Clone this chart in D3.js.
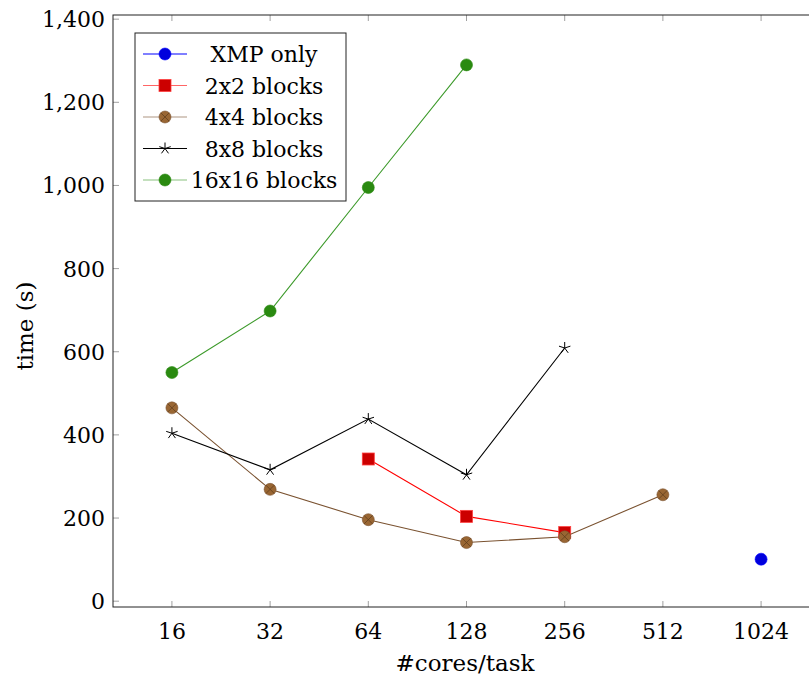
<!DOCTYPE html>
<html>
<head>
<meta charset="utf-8">
<script src="https://cdn.jsdelivr.net/npm/d3@7"></script>
<style>
  body { margin: 0; background: #fff; }
  text { font-family: "DejaVu Serif", "Liberation Serif", serif; }
</style>
</head>
<body>
<svg id="chart" width="809" height="684"></svg>
<script>
// data
const cores = [16, 32, 64, 128, 256, 512, 1024];
const xmpOnly = [[1024, 101]];
const blocks2 = [[64, 342], [128, 204], [256, 165]];
const blocks4 = [[16, 465], [32, 269], [64, 196], [128, 141], [256, 155], [512, 256]];
const blocks8 = [[16, 404], [32, 316], [64, 438], [128, 304], [256, 609]];
const blocks16 = [[16, 550], [32, 698], [64, 995], [128, 1290]];
const yTicks = [0, 200, 400, 600, 800, 1000, 1200, 1400];

const series = [
  { name: "XMP only", data: xmpOnly, line: "#0000ff", fill: "#0000dd", stroke: "#0000ff", mark: "circle" },
  { name: "2x2 blocks", data: blocks2, line: "#ff0000", fill: "#cc0000", stroke: "#ff4040", mark: "square" },
  { name: "4x4 blocks", data: blocks4, line: "#7a5230", fill: "#996633", stroke: "#7a5230", mark: "otimes" },
  { name: "8x8 blocks", data: blocks8, line: "#000000", fill: "none", stroke: "#000000", mark: "star" },
  { name: "16x16 blocks", data: blocks16, line: "#3c9a2a", fill: "#2a8a10", stroke: "#2a8a10", mark: "circle" }
];

const plotLeft = 113, plotRight = 820, plotTop = 15, plotBottom = 607;
const tickFont = 22, labelFont = 23, legendFont = 22;
const svg = d3.select("#chart");

const x = d3.scaleLog().base(2).domain([Math.pow(2, 3.4), Math.pow(2, 10.6)]).range([plotLeft, plotRight]);
const y = d3.scaleLinear().domain([-14, 1410]).range([plotBottom, plotTop]);

// ticks (inside, mirrored)
const tickLen = 6;
const g = svg.append("g");
g.selectAll(".xt").data(cores).enter().append("path")
  .attr("d", d => `M${x(d)},${plotBottom}v${-tickLen}M${x(d)},${plotTop}v${tickLen}`)
  .attr("stroke", "#a0a0a0").attr("stroke-width", 1);
g.selectAll(".yt").data(yTicks).enter().append("path")
  .attr("d", d => `M${plotLeft},${y(d)}h${tickLen}M${plotRight},${y(d)}h${-tickLen}`)
  .attr("stroke", "#a0a0a0").attr("stroke-width", 1);

// axis box
svg.append("rect")
  .attr("x", plotLeft).attr("y", plotTop)
  .attr("width", plotRight - plotLeft).attr("height", plotBottom - plotTop)
  .attr("fill", "none").attr("stroke", "#222").attr("stroke-width", 1);

// tick labels
g.selectAll(".xl").data(cores).enter().append("text")
  .attr("x", d => x(d)).attr("y", 639)
  .attr("text-anchor", "middle").attr("font-size", tickFont)
  .text(d => d);
g.selectAll(".yl").data(yTicks).enter().append("text")
  .attr("x", 105).attr("y", d => y(d) + 8)
  .attr("text-anchor", "end").attr("font-size", tickFont)
  .text(d => d3.format(",")(d));

// axis labels
svg.append("text").attr("x", 465).attr("y", 671)
  .attr("text-anchor", "middle").attr("font-size", labelFont).text("#cores/task");
svg.append("text").attr("transform", "translate(33,326) rotate(-90)")
  .attr("text-anchor", "middle").attr("font-size", labelFont).text("time (s)");

const line = d3.line().x(d => x(d[0])).y(d => y(d[1]));

function drawMark(sel, s) {
  if (s.mark === "circle") {
    sel.append("circle").attr("r", 6).attr("fill", s.fill).attr("stroke", s.stroke).attr("stroke-width", 0.6);
  } else if (s.mark === "square") {
    sel.append("rect").attr("x", -6).attr("y", -6).attr("width", 12).attr("height", 12)
      .attr("fill", s.fill).attr("stroke", s.stroke).attr("stroke-width", 0.8);
  } else if (s.mark === "otimes") {
    sel.append("circle").attr("r", 6).attr("fill", s.fill).attr("stroke", s.stroke).attr("stroke-width", 0.6);
    const r = 6 * Math.SQRT1_2;
    sel.append("path").attr("d", `M${-r},${-r}L${r},${r}M${-r},${r}L${r},${-r}`)
      .attr("stroke", "#5a3a1a").attr("stroke-width", 0.7);
  } else if (s.mark === "star") {
    let p = "";
    for (let k = 0; k < 5; k++) {
      const a = -Math.PI / 2 + k * 2 * Math.PI / 5;
      p += `M0,0L${6 * Math.cos(a)},${6 * Math.sin(a)}`;
    }
    sel.append("path").attr("d", p).attr("stroke", s.stroke).attr("stroke-width", 1).attr("fill", "none");
  }
}

const plot = svg.append("g");
series.forEach(s => {
  plot.append("path").datum(s.data).attr("d", line)
    .attr("fill", "none").attr("stroke", s.line).attr("stroke-width", 1.1);
});
series.forEach(s => {
  plot.append("g").selectAll("g").data(s.data).enter().append("g")
    .attr("transform", d => `translate(${x(d[0])},${y(d[1])})`)
    .each(function () { drawMark(d3.select(this), s); });
});

// legend
const lg = svg.append("g");
lg.append("rect").attr("x", 135).attr("y", 33).attr("width", 211).attr("height", 168)
  .attr("fill", "#fff").attr("stroke", "#222").attr("stroke-width", 1);
series.forEach((s, i) => {
  const cy = 54 + i * 31.5;
  lg.append("path").attr("d", `M143,${cy}H187`).attr("stroke", s.line).attr("stroke-width", 1.1)
    .attr("opacity", s.line === "#000000" || s.line === "#0000ff" ? 1 : 0.6);
  drawMark(lg.append("g").attr("transform", `translate(165,${cy})`), s);
  lg.append("text").attr("x", 264).attr("y", cy + 8).attr("text-anchor", "middle")
    .attr("font-size", legendFont).text(s.name);
});
</script>
</body>
</html>
